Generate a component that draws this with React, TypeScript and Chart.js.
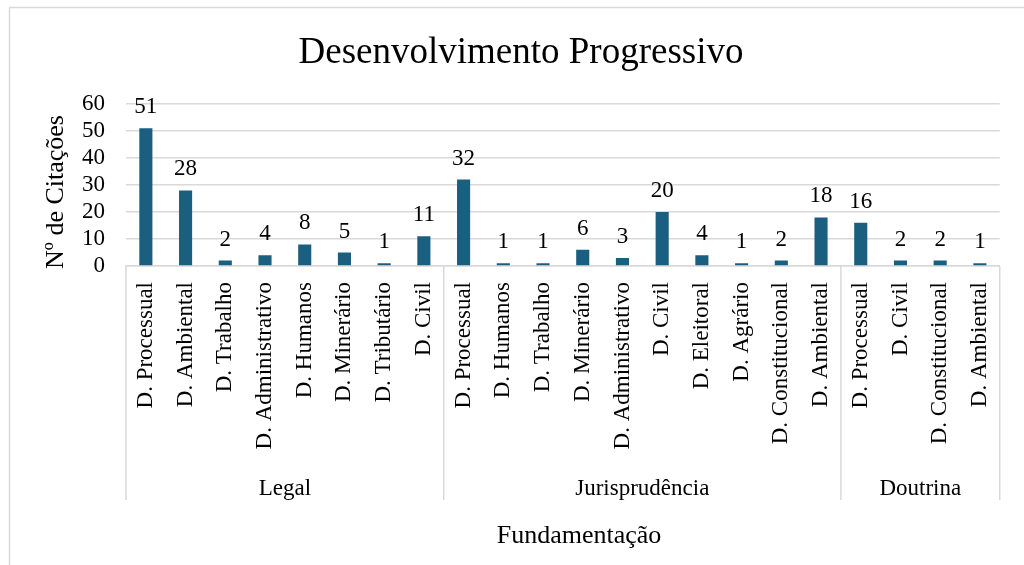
import React, { useEffect, useRef } from "react";
import { Chart, registerables } from "chart.js";

Chart.register(...registerables);

const title = "Desenvolvimento Progressivo";
const yTitle = "Nº de Citações";
const xTitle = "Fundamentação";
const categories = [
  "D. Processual", "D. Ambiental", "D. Trabalho", "D. Administrativo", "D. Humanos", "D. Minerário", "D. Tributário", "D. Civil",
  "D. Processual", "D. Humanos", "D. Trabalho", "D. Minerário", "D. Administrativo", "D. Civil", "D. Eleitoral", "D. Agrário", "D. Constitucional", "D. Ambiental",
  "D. Processual", "D. Civil", "D. Constitucional", "D. Ambiental",
];
const values = [51, 28, 2, 4, 8, 5, 1, 11, 32, 1, 1, 6, 3, 20, 4, 1, 2, 18, 16, 2, 2, 1];
const groupNames = ["Legal", "Jurisprudência", "Doutrina"];
const groupSizes = [8, 10, 4];
const yMin = 0;
const yMax = 60;
const yStep = 10;

const FONT = "'Liberation Serif', 'Times New Roman', serif";
const BAR = "#1a5e80";
const GRID = "#d9d9d9";

const decorPlugin = {
  id: "decor",
  beforeDraw(chart: any) {
    const ctx = chart.ctx;
    ctx.save();
    ctx.strokeStyle = GRID;
    ctx.lineWidth = 1.5;
    ctx.strokeRect(9.5, 7.5, 1200, 800);
    ctx.restore();
  },
  afterDraw(chart: any) {
    const ctx = chart.ctx;
    const x = chart.scales.x;
    const area = chart.chartArea;
    ctx.save();
    // data labels
    const meta = chart.getDatasetMeta(0);
    ctx.fillStyle = "#000";
    ctx.font = `23px ${FONT}`;
    ctx.textAlign = "center";
    ctx.textBaseline = "alphabetic";
    meta.data.forEach((bar: any, i: number) => {
      ctx.fillText(String(values[i]), bar.x, bar.y - 15);
    });
    // group separators and labels
    const half = (x.getPixelForValue(1) - x.getPixelForValue(0)) / 2;
    let start = 0;
    const bottomY = 500;
    ctx.strokeStyle = GRID;
    ctx.lineWidth = 1.5;
    const drawV = (px: number) => {
      ctx.beginPath();
      ctx.moveTo(px, area.bottom);
      ctx.lineTo(px, bottomY);
      ctx.stroke();
    };
    drawV(x.getPixelForValue(0) - half);
    groupSizes.forEach((n, gi) => {
      const l = x.getPixelForValue(start) - half;
      const r = x.getPixelForValue(start + n - 1) + half;
      drawV(r);
      ctx.fillText(groupNames[gi], (l + r) / 2, 495);
      start += n;
    });
    // titles
    ctx.font = `37px ${FONT}`;
    ctx.fillText(title, 521, 63);
    ctx.font = `26px ${FONT}`;
    ctx.fillText(xTitle, 579, 543);
    ctx.translate(63, 192);
    ctx.rotate(-Math.PI / 2);
    ctx.fillText(yTitle, 0, 0);
    ctx.restore();
  },
};

export default function App() {
  const ref = useRef<HTMLCanvasElement>(null);
  useEffect(() => {
    const chart = new Chart(ref.current!, {
      type: "bar",
      data: {
        labels: categories,
        datasets: [
          {
            data: values,
            backgroundColor: BAR,
            barPercentage: 0.33,
            categoryPercentage: 1,
          },
        ],
      },
      options: {
        animation: false,
        responsive: false,
        layout: { padding: { top: 104, right: 22, left: 0, bottom: 0 } },
        plugins: { legend: { display: false }, title: { display: false }, tooltip: { enabled: false } },
        scales: {
          x: {
            afterFit: (s: any) => { s.height = 299; },
            grid: { display: false, drawTicks: false },
            border: { display: true, color: GRID, width: 1.5 },
            ticks: {
              autoSkip: false,
              minRotation: 90,
              maxRotation: 90,
              padding: 16,
              color: "#000",
              font: { family: FONT, size: 23 },
            },
          },
          y: {
            min: yMin,
            max: yMax,
            afterFit: (s: any) => { s.width = 126; },
            grid: { color: GRID, lineWidth: 1.5, drawTicks: false },
            border: { display: false },
            ticks: {
              stepSize: yStep,
              autoSkip: false,
              padding: 21,
              color: "#000",
              font: { family: FONT, size: 23 },
            },
          },
        },
      },
      plugins: [decorPlugin],
    });
    return () => chart.destroy();
  }, []);
  return (
    <div style={{ position: "fixed", left: 0, top: 0, width: 1024, height: 565, background: "#fff" }}>
      <canvas ref={ref} width={1024} height={565} style={{ width: 1024, height: 565 }} />
    </div>
  );
}
